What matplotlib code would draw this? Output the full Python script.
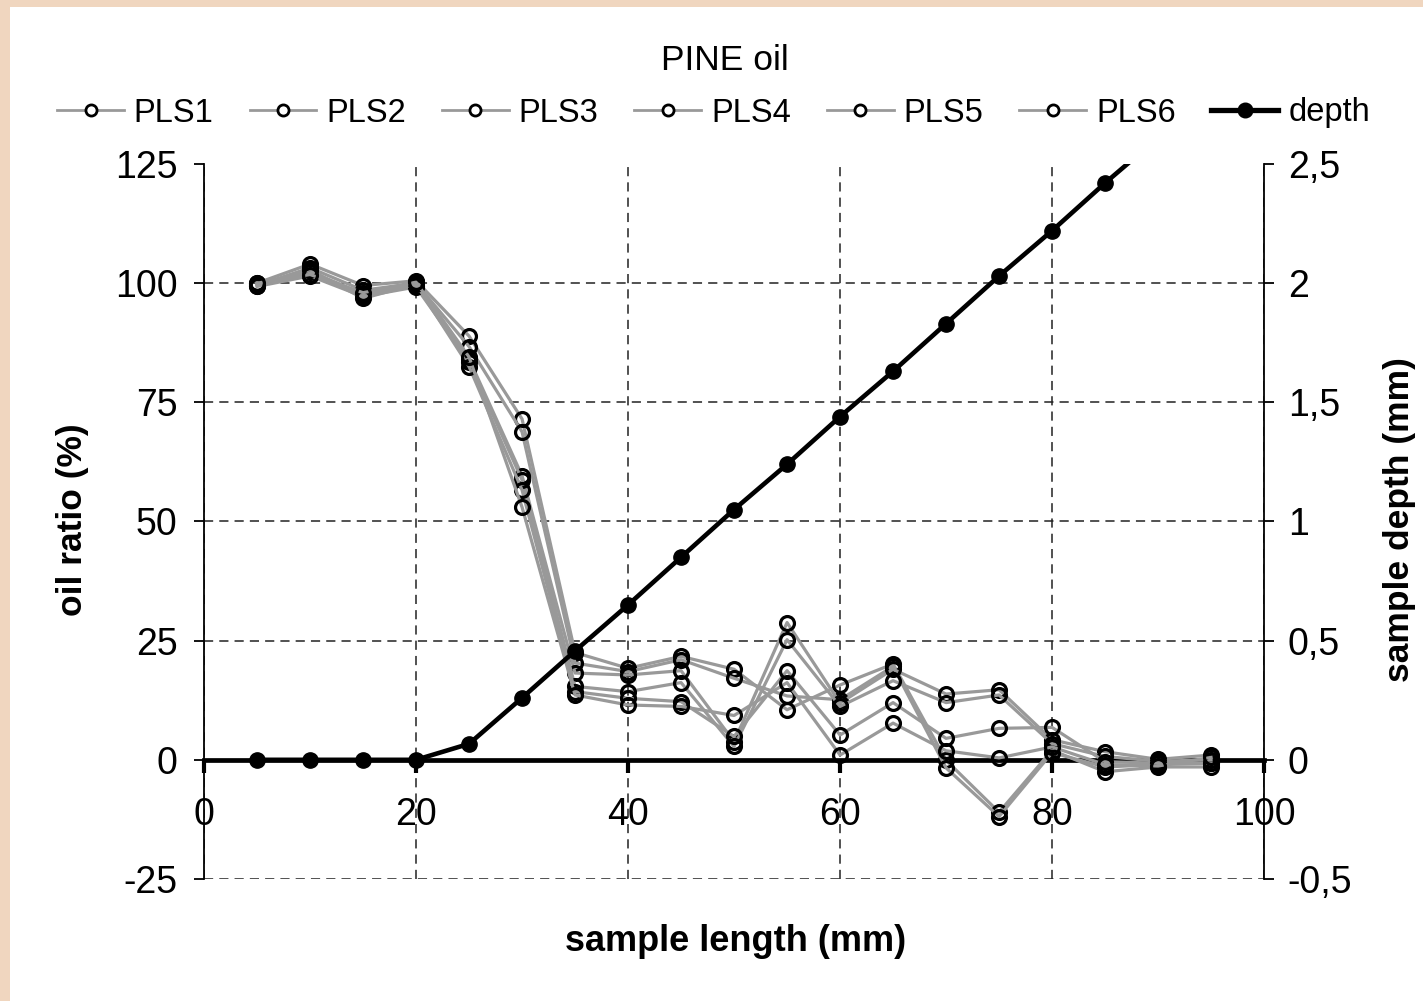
import matplotlib
matplotlib.use('Agg')
import matplotlib.pyplot as plt
from matplotlib.lines import Line2D
from matplotlib.patches import Rectangle
import numpy as np

plt.rcParams['font.family'] = ['Liberation Sans', 'DejaVu Sans']
plt.rcParams['axes.unicode_minus'] = False

# длина образца (мм)
length = [5, 10, 15, 20, 25, 30, 35, 40, 45, 50, 55, 60, 65, 70, 75, 80, 85, 90, 95]

# доля масла (%) для шести PLS моделей
pls1 = [100.0, 104.0, 99.5, 100.5, 88.9, 71.5, 22.5, 19.2, 21.7, 19.0, 10.5, 15.7, 20.1, -0.1, -11.0, 2.0, -2.5, -1.5, -1.5]
pls2 = [99.5, 103.2, 98.5, 100.0, 86.7, 68.8, 20.3, 18.5, 21.0, 17.1, 13.4, 12.6, 19.6, -1.7, -11.9, 1.5, -1.5, -1.0, -0.7]
pls3 = [99.8, 102.4, 97.8, 99.5, 84.1, 59.6, 18.2, 17.8, 18.7, 3.8, 28.8, 11.9, 19.0, 13.8, 14.7, 4.2, 1.7, 0.1, 1.0]
pls4 = [99.3, 101.5, 97.2, 99.2, 83.5, 58.7, 15.4, 14.3, 16.2, 2.8, 25.2, 11.2, 16.6, 12.0, 13.6, 3.4, 0.7, -0.3, 0.0]
pls5 = [99.6, 102.8, 96.8, 99.8, 82.5, 56.6, 14.3, 12.9, 12.2, 4.9, 18.7, 5.2, 12.0, 4.5, 6.6, 6.8, -0.4, -0.7, -0.7]
pls6 = [100.0, 101.8, 98.0, 100.2, 84.5, 53.0, 13.6, 11.5, 11.2, 9.3, 16.2, 1.0, 7.7, 1.9, 0.4, 2.7, -1.0, -1.3, 0.5]
pls_all = [pls1, pls2, pls3, pls4, pls5, pls6]
pls_names = ['PLS1', 'PLS2', 'PLS3', 'PLS4', 'PLS5', 'PLS6']

# глубина образца (мм)
depth = [0, 0, 0, 0, 0.067, 0.26, 0.457, 0.65, 0.85, 1.05, 1.24, 1.44, 1.63, 1.83, 2.03, 2.22, 2.42, 2.61, 2.81]

x_ticks = [0, 20, 40, 60, 80, 100]
y_ticks = [-25, 0, 25, 50, 75, 100, 125]
y2_ticks = [-0.5, 0, 0.5, 1, 1.5, 2, 2.5]
y2_labels = ['-0,5', '0', '0,5', '1', '1,5', '2', '2,5']

fig = plt.figure(figsize=(14.23, 10.01), dpi=100)
fig.patch.set_facecolor('#f0d6bf')
fig.add_artist(Rectangle((10 / 1423, 0), 1, 1 - 7 / 1001, transform=fig.transFigure,
                         facecolor='white', edgecolor='none', zorder=0))

ax = fig.add_axes([0.1434, 0.1219, 0.7449, 0.7143])
ax.set_xlim(0, 100)
ax.set_ylim(-25, 125)
ax.set_xticks(x_ticks)
ax.set_yticks(y_ticks)

for vals in pls_all:
    ax.plot(length, vals, color='#999999', lw=2.3, marker='o', ms=10,
            mfc='none', mec='black', mew=2.3, zorder=3)

ax.grid(True, ls=(0, (6, 4)), color='#222222', lw=1.1)
for v, gl in zip(y_ticks, ax.get_ygridlines()):
    if v in (0, 125):
        gl.set_visible(False)
for v, gl in zip(x_ticks, ax.get_xgridlines()):
    if v in (0, 100):
        gl.set_visible(False)

ax.spines['top'].set_visible(False)
ax.spines['right'].set_visible(False)
ax.spines['bottom'].set_position(('data', 0))
ax.spines['bottom'].set_linewidth(3.4)
ax.spines['left'].set_linewidth(1.3)
ax.tick_params(axis='x', direction='out', length=9, width=3, pad=18, labelsize=27)
ax.tick_params(axis='y', direction='out', length=7, width=1.3, pad=12, labelsize=27)

ax2 = ax.twinx()
ax2.set_ylim(-0.5, 2.5)
ax2.set_yticks(y2_ticks)
ax2.set_yticklabels(y2_labels)
for s in ('top', 'bottom', 'left'):
    ax2.spines[s].set_visible(False)
ax2.spines['right'].set_linewidth(1.3)
ax2.tick_params(axis='y', direction='out', length=7, width=1.3, pad=10, labelsize=27)
ax2.plot(length, depth, color='black', lw=3.3, marker='o', ms=11, mfc='black', mec='black')

ax.set_xlabel('sample length (mm)', fontsize=26, fontweight='bold', va='center')
ax.xaxis.set_label_coords(0.501, -0.088)
ax.set_ylabel('oil ratio (%)', fontsize=25.5, fontweight='bold', va='center')
ax.yaxis.set_label_coords(-0.1245, 0.502)
ax2.set_ylabel('sample depth (mm)', fontsize=25.5, fontweight='bold', va='center')
ax2.yaxis.set_label_coords(1.128, 0.502)

fig.text(0.5097, 1 - 60 / 1001, 'PINE oil', ha='center', va='center', fontsize=25.5)

handles = [Line2D([], [], color='#999999', lw=2, marker='o', ms=8, mfc='white',
                  mec='black', mew=2) for _ in pls_names]
handles.append(Line2D([], [], color='black', lw=3.8, marker='o', ms=10.5))
fig.legend(handles, pls_names + ['depth'], loc='center', bbox_to_anchor=(0.5014, 1 - 113 / 1001),
           ncol=7, frameon=False, fontsize=23.5, handlelength=2.05, handletextpad=0.3,
           columnspacing=1.1)

fig.savefig('out.png', dpi=100, facecolor=fig.get_facecolor())
